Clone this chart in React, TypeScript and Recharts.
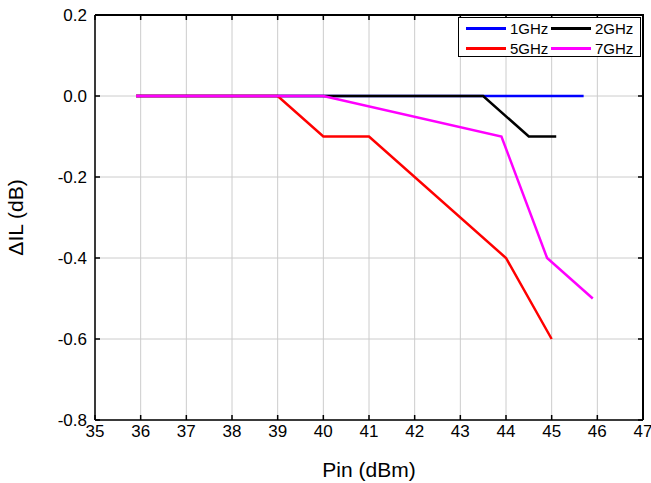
import React from "react";
import {
  LineChart,
  Line,
  XAxis,
  YAxis,
  CartesianGrid,
  Legend,
  ReferenceLine,
} from "recharts";

const FONT = "'Liberation Sans', Arial, sans-serif";

// Pin (dBm) / ΔIL (dB) for each frequency
const pin1G = [35.9, 45.7];
const il1G = [0, 0];
const pin2G = [35.9, 43.5, 44.5, 45.1];
const il2G = [0, 0, -0.1, -0.1];
const pin5G = [35.9, 39, 40, 41, 44, 45];
const il5G = [0, 0, -0.1, -0.1, -0.4, -0.6];
const pin7G = [35.9, 39, 40, 43.9, 44.9, 45.9];
const il7G = [0, 0, 0, -0.1, -0.4, -0.5];

const xTicks = [35, 36, 37, 38, 39, 40, 41, 42, 43, 44, 45, 46, 47];
const yTicks = [-0.8, -0.6, -0.4, -0.2, 0, 0.2];

const toRows = (xs: number[], ys: number[]) =>
  xs.map((x, i) => ({ pin: x, il: ys[i] }));

const series = [
  { name: "1GHz", color: "#0000ff", data: toRows(pin1G, il1G) },
  { name: "2GHz", color: "#000000", data: toRows(pin2G, il2G) },
  { name: "5GHz", color: "#ff0000", data: toRows(pin5G, il5G) },
  { name: "7GHz", color: "#ff00ff", data: toRows(pin7G, il7G) },
];

const PLOT = { left: 95, top: 15, right: 643, bottom: 420 };

// ticks point into the plot on all four sides, like the original
const BottomTick = ({ x, y, payload }: any) => (
  <g>
    <path
      d={`M${x},${y}v-5M${x},${PLOT.top}v5`}
      stroke="#000"
      strokeWidth={1.5}
      fill="none"
    />
    <text
      x={x}
      y={y + 17}
      textAnchor="middle"
      fontSize={17}
      fontFamily={FONT}
      fill="#000"
    >
      {payload.value}
    </text>
  </g>
);

const LeftTick = ({ x, y, payload }: any) => (
  <g>
    <path
      d={`M${x},${y}h5M${PLOT.right},${y}h-5`}
      stroke="#000"
      strokeWidth={1.5}
      fill="none"
    />
    <text
      x={x - 8}
      y={y + 6}
      textAnchor="end"
      fontSize={17}
      fontFamily={FONT}
      fill="#000"
    >
      {payload.value.toFixed(1)}
    </text>
  </g>
);

const BoxLegend = ({ payload }: any) => {
  const items = payload || [];
  return (
    <svg width={183} height={40} style={{ display: "block" }}>
      <rect x={0.5} y={0.5} width={182} height={39} fill="#fff" stroke="#000" />
      {items.map((it: any, i: number) => {
        const lx = i % 2 === 0 ? 8 : 93;
        const ly = i < 2 ? 11.5 : 31.5;
        return (
          <g key={it.value}>
            <line
              x1={lx}
              x2={lx + 40}
              y1={ly}
              y2={ly}
              stroke={it.color}
              strokeWidth={3}
            />
            <text
              x={lx + 44}
              y={ly + 5.5}
              fontSize={15}
              fontFamily={FONT}
              fill="#000"
            >
              {it.value}
            </text>
          </g>
        );
      })}
    </svg>
  );
};

export default function App() {
  return (
    <div
      style={{ position: "relative", width: 651, height: 483, background: "#fff" }}
    >
      <style>{`body{margin:0}`}</style>
      <LineChart
        width={651}
        height={483}
        margin={{ top: 15, right: 8, bottom: 0, left: 0 }}
      >
        <CartesianGrid stroke="#cccccc" strokeWidth={1} />
        <XAxis
          dataKey="pin"
          type="number"
          domain={[35, 47]}
          ticks={xTicks}
          allowDuplicatedCategory={false}
          height={63}
          stroke="#000"
          strokeWidth={1.5}
          tickLine={false}
          tickSize={0}
          tickMargin={0}
          tick={<BottomTick />}
          label={{
            value: "Pin (dBm)",
            position: "insideBottom",
            offset: 6,
            style: { fill: "#000", fontSize: 21, fontFamily: FONT },
          }}
        />
        <YAxis
          type="number"
          domain={[-0.8, 0.2]}
          ticks={yTicks}
          width={95}
          stroke="#000"
          strokeWidth={1.5}
          tickLine={false}
          tickSize={0}
          tickMargin={0}
          tick={<LeftTick />}
          label={{
            value: "ΔIL (dB)",
            angle: -90,
            position: "insideLeft",
            offset: 16,
            style: {
              fill: "#000",
              fontSize: 21,
              fontFamily: FONT,
              textAnchor: "middle",
            },
          }}
        />
        <ReferenceLine y={0.2} stroke="#000" strokeWidth={2} ifOverflow="extendDomain" />
        <ReferenceLine x={47} stroke="#000" strokeWidth={2} ifOverflow="extendDomain" />
        <Legend
          layout="vertical"
          align="center"
          verticalAlign="middle"
          content={<BoxLegend />}
          wrapperStyle={{ left: 458, top: 17, width: 183, height: 40 }}
        />
        {series.map((s) => (
          <Line
            key={s.name}
            name={s.name}
            data={s.data}
            dataKey="il"
            stroke={s.color}
            strokeWidth={2.5}
            dot={false}
            activeDot={false}
            isAnimationActive={false}
          />
        ))}
      </LineChart>
      {/* top and right edges of the plot frame */}
      <div
        style={{
          position: "absolute",
          left: PLOT.left,
          top: PLOT.top - 1,
          width: PLOT.right - PLOT.left + 1,
          height: PLOT.bottom - PLOT.top,
          borderTop: "2px solid #000",
          borderRight: "2px solid #000",
          boxSizing: "border-box",
          pointerEvents: "none",
          zIndex: 5,
        }}
      />
    </div>
  );
}
